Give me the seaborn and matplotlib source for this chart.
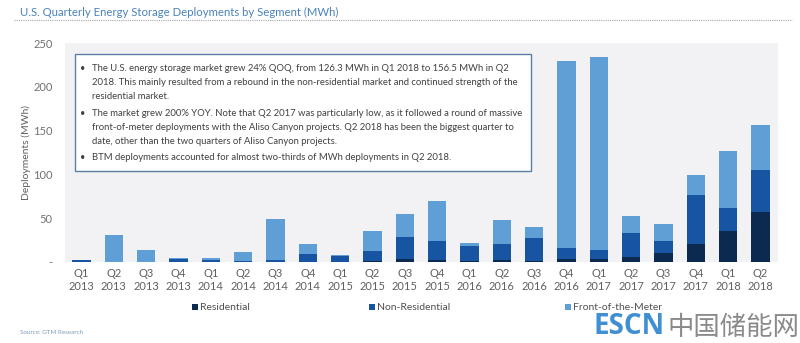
import matplotlib
matplotlib.use("Agg")
import matplotlib.pyplot as plt
from matplotlib.patches import Rectangle
import seaborn as sns
import pandas as pd
import numpy as np

quarters = ["Q1\n2013", "Q2\n2013", "Q3\n2013", "Q4\n2013",
            "Q1\n2014", "Q2\n2014", "Q3\n2014", "Q4\n2014",
            "Q1\n2015", "Q2\n2015", "Q3\n2015", "Q4\n2015",
            "Q1\n2016", "Q2\n2016", "Q3\n2016", "Q4\n2016",
            "Q1\n2017", "Q2\n2017", "Q3\n2017", "Q4\n2017",
            "Q1\n2018", "Q2\n2018"]
residential = [0.5, 0.0, 0.0, 0.5, 0.3, 0.3, 0.5, 0.5, 0.5, 1.0, 3.0, 2.0,
               1.5, 2.0, 1.0, 3.0, 3.5, 5.5, 10.0, 20.0, 35.5, 57.0]
non_residential = [2.0, 0.5, 0.5, 2.5, 2.0, 0.5, 1.5, 9.0, 6.0, 12.0, 25.0, 22.0,
                   17.0, 18.5, 26.0, 13.0, 10.5, 28.0, 14.5, 56.0, 26.0, 47.5]
front_of_meter = [0.0, 30.5, 13.0, 1.0, 2.5, 11.0, 47.0, 11.0, 1.5, 22.0, 27.0, 45.5,
                  3.5, 27.0, 13.0, 213.5, 220.0, 18.5, 19.0, 23.5, 64.8, 52.0]
series_names = ["Residential", "Non-Residential", "Front-of-the-Meter"]
colors = ["#0c2a4f", "#1755a3", "#5f9fd6"]
y_ticks = [0, 50, 100, 150, 200, 250]
y_tick_labels = ["-", "50", "100", "150", "200", "250"]

bullets = [
    ["The U.S. energy storage market grew 24% QOQ, from 126.3 MWh in Q1 2018 to 156.5 MWh in Q2",
     "2018. This mainly resulted from a rebound in the non-residential market and continued strength of the",
     "residential market."],
    ["The market grew 200% YOY. Note that Q2 2017 was particularly low, as it followed a round of massive",
     "front-of-meter deployments with the Aliso Canyon projects. Q2 2018 has been the biggest quarter to",
     "date, other than the two quarters of Aliso Canyon projects."],
    ["BTM deployments accounted for almost two-thirds of MWh deployments in Q2 2018."],
]

df = pd.DataFrame({"quarter": quarters, "res": residential,
                   "nonres": non_residential, "ftm": front_of_meter})
df["lvl1"] = df["res"]
df["lvl2"] = df["res"] + df["nonres"]
df["lvl3"] = df["lvl2"] + df["ftm"]

sns.set_theme(style="white")
plt.rcParams["font.family"] = ["Lato", "DejaVu Sans"]

W, H = 800, 343
fig = plt.figure(figsize=(W / 100, H / 100), dpi=100)
fig.patch.set_facecolor("white")

def fx(px):
    return px / W

def fy(py):
    return 1 - py / H

ax = fig.add_axes([fx(65), fy(262), fx(778) - fx(65), fy(43) - fy(262)])
ax.set_facecolor("#f2f2f4")

bw = 0.56
for col, c in zip(["lvl3", "lvl2", "lvl1"], colors[::-1]):
    sns.barplot(data=df, x="quarter", y=col, color=c, width=bw,
                saturation=1, ax=ax, linewidth=0, order=quarters)

ax.set_xlim(-0.51, 21.54)
ax.set_ylim(0, 250)
ax.set_yticks(y_ticks)
ax.set_yticklabels(y_tick_labels)
ax.tick_params(axis="y", length=0, labelsize=8, labelcolor="#707070", pad=9)
ax.tick_params(axis="x", length=0, labelsize=8, labelcolor="#606060", pad=4)
for lab in ax.get_xticklabels():
    lab.set_linespacing(1.25)
ax.set_xlabel("")
ax.set_ylabel("")
for s in ax.spines.values():
    s.set_visible(False)

fig.text(fx(26), fy(152), "Deployments (MWh)", rotation=90, fontsize=7.5,
         color="#606060", ha="center", va="center")

# Title
fig.text(fx(20), fy(12), "U.S. Quarterly Energy Storage Deployments by Segment (MWh)",
         fontsize=8.2, color="#4a82ba", ha="left", va="center")
fig.add_artist(plt.Line2D([fx(14), fx(792)], [fy(20), fy(20)], color="#a8a8a8",
                          lw=0.8, linestyle=(0, (1, 1)), transform=fig.transFigure))

# Text box
fig.add_artist(Rectangle((fx(75), fy(171)), fx(531) - fx(75), fy(54) - fy(171),
                         transform=fig.transFigure, facecolor="white",
                         edgecolor="#5c7fa5", linewidth=1.0, zorder=5))
line_y = [[68.5, 82.5, 96.5], [113.5, 127.5, 141.5], [157.5]]
for lines, ys in zip(bullets, line_y):
    fig.text(fx(80), fy(ys[0]), "•", fontsize=6.5, color="#404040",
             ha="left", va="center", zorder=6)
    for ln, yy in zip(lines, ys):
        fig.text(fx(92.5), fy(yy), ln, fontsize=6.8, color="#404040",
                 ha="left", va="center", zorder=6)

# Legend
leg_x = [195, 371.5, 568]
for name, c, lx in zip(series_names, colors, leg_x):
    fig.add_artist(Rectangle((fx(lx - 3), fy(310)), fx(6), 6 / H,
                             transform=fig.transFigure, facecolor=c, edgecolor="none"))
    fig.text(fx(lx + 5), fy(307), name, fontsize=7.5, color="#505050",
             ha="left", va="center")

# Source
fig.text(fx(20), fy(333), "Source: GTM Research", fontsize=4.5, color="#7f9cbc",
         ha="left", va="center")

# Watermark
fig.text(fx(594), fy(327), "ESCN", fontsize=20, fontweight="bold", color="#3f8fd2",
         ha="left", va="center", family=["Open Sans", "DejaVu Sans"])
fig.text(fx(667), fy(327), "中国储能网", fontsize=19, color="#8a8a8a",
         ha="left", va="center", family=["Noto Sans CJK SC", "DejaVu Sans"])

fig.savefig("out.png", dpi=100, facecolor="white")
